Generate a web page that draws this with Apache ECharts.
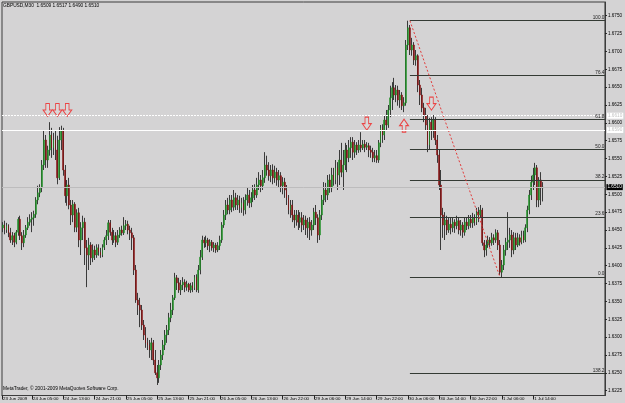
<!DOCTYPE html>
<html>
<head>
<meta charset="utf-8">
<script src="https://cdn.jsdelivr.net/npm/echarts@6/dist/echarts.min.js"></script>
<style>
html, body { margin: 0; background: #d4d3d4; }
#chart { width: 625px; height: 403px; }
</style>
</head>
<body>
<div id="chart"></div>
<script>
// GBPUSD M30, one [open, close, low, high] per bar, bar numbers start at firstBar
const symbolName = 'GBPUSD,M30';
const lastQuote = [1.6509, 1.6517, 1.6490, 1.6510]; // O H L C shown in the corner
const firstBar = 1;
const candles = [
  [1.6453,1.6457,1.6447,1.6461],[1.6457,1.6450,1.6444,1.6463],[1.6450,1.6456,1.6446,1.6460],[1.6456,1.6446,1.6440,1.6458],
  [1.6446,1.6436,1.6432,1.6453],[1.6436,1.6442,1.6429,1.6447],[1.6442,1.6433,1.6426,1.6446],[1.6433,1.6447,1.6430,1.6450],
  [1.6447,1.6465,1.6442,1.6468],[1.6465,1.6442,1.6436,1.6470],[1.6442,1.6432,1.6422,1.6447],[1.6432,1.6443,1.6426,1.6450],
  [1.6443,1.6453,1.6439,1.6457],[1.6453,1.6461,1.6450,1.6468],[1.6461,1.6465,1.6456,1.6472],[1.6465,1.6467,1.6447,1.6475],
  [1.6467,1.6472,1.6456,1.6477],[1.6472,1.6492,1.6467,1.6496],[1.6492,1.6502,1.6486,1.6512],[1.6502,1.6509,1.6496,1.6514],
  [1.6509,1.6541,1.6503,1.6548],[1.6541,1.6576,1.6534,1.6590],[1.6576,1.6548,1.6537,1.6583],[1.6548,1.6562,1.6537,1.6568],
  [1.6562,1.6583,1.6554,1.6601],[1.6583,1.6565,1.6551,1.6593],[1.6565,1.6576,1.6555,1.6586],[1.6576,1.6562,1.6548,1.6589],
  [1.6562,1.6523,1.6514,1.6582],[1.6523,1.6576,1.6520,1.6594],[1.6576,1.6589,1.6562,1.6596],[1.6589,1.6534,1.6526,1.6593],
  [1.6534,1.6498,1.6488,1.6541],[1.6498,1.6513,1.6484,1.6520],[1.6513,1.6485,1.6479,1.6523],[1.6485,1.6471,1.6457,1.6492],
  [1.6471,1.6486,1.6461,1.6492],[1.6486,1.6454,1.6447,1.6489],[1.6454,1.6474,1.6447,1.6479],[1.6474,1.6436,1.6426,1.6481],
  [1.6436,1.6453,1.6415,1.6461],[1.6453,1.6461,1.6436,1.6470],[1.6461,1.6425,1.6401,1.6467],[1.6425,1.6415,1.6370,1.6436],
  [1.6415,1.6429,1.6394,1.6439],[1.6429,1.6411,1.6401,1.6433],[1.6411,1.6422,1.6405,1.6430],[1.6422,1.6415,1.6408,1.6428],
  [1.6415,1.6425,1.6411,1.6430],[1.6425,1.6419,1.6414,1.6430],[1.6419,1.6415,1.6411,1.6425],[1.6415,1.6426,1.6412,1.6430],
  [1.6426,1.6436,1.6422,1.6440],[1.6436,1.6442,1.6429,1.6450],[1.6442,1.6460,1.6436,1.6464],[1.6460,1.6447,1.6442,1.6464],
  [1.6447,1.6436,1.6429,1.6453],[1.6436,1.6442,1.6432,1.6450],[1.6442,1.6433,1.6426,1.6447],[1.6433,1.6443,1.6429,1.6450],
  [1.6443,1.6450,1.6439,1.6454],[1.6450,1.6446,1.6442,1.6456],[1.6446,1.6456,1.6443,1.6468],[1.6456,1.6458,1.6450,1.6464],
  [1.6458,1.6450,1.6444,1.6463],[1.6450,1.6446,1.6436,1.6456],[1.6446,1.6439,1.6422,1.6453],[1.6439,1.6394,1.6387,1.6443],
  [1.6394,1.6352,1.6348,1.6401],[1.6352,1.6345,1.6331,1.6362],[1.6345,1.6338,1.6314,1.6355],[1.6338,1.6317,1.6310,1.6345],
  [1.6317,1.6303,1.6296,1.6324],[1.6303,1.6292,1.6285,1.6314],[1.6292,1.6289,1.6282,1.6299],[1.6289,1.6282,1.6271,1.6296],
  [1.6282,1.6292,1.6268,1.6299],[1.6292,1.6268,1.6261,1.6296],[1.6268,1.6250,1.6247,1.6282],[1.6250,1.6243,1.6233,1.6261],
  [1.6243,1.6261,1.6236,1.6268],[1.6261,1.6275,1.6254,1.6282],[1.6275,1.6289,1.6268,1.6296],[1.6289,1.6303,1.6282,1.6310],
  [1.6303,1.6310,1.6292,1.6317],[1.6310,1.6327,1.6303,1.6334],[1.6327,1.6338,1.6321,1.6348],[1.6338,1.6355,1.6331,1.6359],
  [1.6355,1.6383,1.6352,1.6390],[1.6383,1.6376,1.6366,1.6387],[1.6376,1.6366,1.6362,1.6383],[1.6366,1.6373,1.6359,1.6380],
  [1.6373,1.6377,1.6366,1.6384],[1.6377,1.6370,1.6363,1.6381],[1.6370,1.6374,1.6365,1.6379],[1.6374,1.6366,1.6363,1.6376],
  [1.6366,1.6372,1.6362,1.6376],[1.6372,1.6369,1.6363,1.6377],[1.6369,1.6384,1.6366,1.6387],[1.6384,1.6366,1.6363,1.6388],
  [1.6366,1.6394,1.6362,1.6401],[1.6394,1.6412,1.6388,1.6422],[1.6412,1.6436,1.6408,1.6442],[1.6436,1.6432,1.6425,1.6440],
  [1.6432,1.6436,1.6426,1.6442],[1.6436,1.6428,1.6422,1.6439],[1.6428,1.6433,1.6419,1.6437],[1.6433,1.6425,1.6421,1.6436],
  [1.6425,1.6429,1.6419,1.6433],[1.6429,1.6422,1.6418,1.6432],[1.6422,1.6428,1.6419,1.6433],[1.6428,1.6436,1.6422,1.6442],
  [1.6436,1.6457,1.6432,1.6461],[1.6457,1.6471,1.6453,1.6478],[1.6471,1.6485,1.6464,1.6492],[1.6485,1.6478,1.6472,1.6495],
  [1.6478,1.6492,1.6472,1.6499],[1.6492,1.6482,1.6475,1.6499],[1.6482,1.6495,1.6477,1.6506],[1.6495,1.6485,1.6478,1.6502],
  [1.6485,1.6492,1.6478,1.6499],[1.6492,1.6481,1.6474,1.6498],[1.6481,1.6488,1.6474,1.6495],[1.6488,1.6478,1.6470,1.6496],
  [1.6478,1.6492,1.6472,1.6500],[1.6492,1.6499,1.6484,1.6509],[1.6499,1.6488,1.6481,1.6506],[1.6488,1.6495,1.6482,1.6503],
  [1.6495,1.6506,1.6489,1.6513],[1.6506,1.6499,1.6492,1.6514],[1.6499,1.6513,1.6495,1.6523],[1.6513,1.6520,1.6506,1.6531],
  [1.6520,1.6512,1.6503,1.6527],[1.6512,1.6523,1.6506,1.6534],[1.6523,1.6541,1.6516,1.6559],[1.6541,1.6534,1.6526,1.6554],
  [1.6534,1.6526,1.6519,1.6545],[1.6526,1.6534,1.6517,1.6541],[1.6534,1.6523,1.6514,1.6542],[1.6523,1.6531,1.6516,1.6540],
  [1.6531,1.6520,1.6512,1.6537],[1.6520,1.6526,1.6509,1.6534],[1.6526,1.6512,1.6503,1.6531],[1.6512,1.6517,1.6500,1.6524],
  [1.6517,1.6506,1.6495,1.6523],[1.6506,1.6495,1.6485,1.6513],[1.6495,1.6478,1.6472,1.6499],[1.6478,1.6485,1.6467,1.6492],
  [1.6485,1.6471,1.6461,1.6492],[1.6471,1.6464,1.6453,1.6478],[1.6464,1.6471,1.6456,1.6478],[1.6471,1.6461,1.6450,1.6478],
  [1.6461,1.6467,1.6453,1.6475],[1.6467,1.6457,1.6447,1.6475],[1.6457,1.6464,1.6450,1.6471],[1.6464,1.6453,1.6443,1.6470],
  [1.6453,1.6461,1.6439,1.6467],[1.6461,1.6450,1.6436,1.6468],[1.6450,1.6457,1.6442,1.6464],[1.6457,1.6475,1.6450,1.6481],
  [1.6475,1.6467,1.6457,1.6485],[1.6467,1.6443,1.6432,1.6472],[1.6443,1.6471,1.6436,1.6478],[1.6471,1.6492,1.6464,1.6499],
  [1.6492,1.6506,1.6485,1.6517],[1.6506,1.6499,1.6489,1.6516],[1.6499,1.6520,1.6492,1.6527],[1.6520,1.6509,1.6502,1.6528],
  [1.6509,1.6527,1.6503,1.6537],[1.6527,1.6520,1.6512,1.6537],[1.6520,1.6537,1.6514,1.6548],[1.6537,1.6527,1.6506,1.6545],
  [1.6527,1.6548,1.6513,1.6562],[1.6548,1.6531,1.6524,1.6572],[1.6531,1.6541,1.6506,1.6562],[1.6541,1.6562,1.6534,1.6572],
  [1.6562,1.6551,1.6531,1.6569],[1.6551,1.6565,1.6545,1.6576],[1.6565,1.6573,1.6551,1.6580],[1.6573,1.6559,1.6548,1.6580],
  [1.6559,1.6569,1.6551,1.6576],[1.6569,1.6562,1.6555,1.6573],[1.6562,1.6569,1.6558,1.6576],[1.6569,1.6565,1.6559,1.6587],
  [1.6565,1.6570,1.6562,1.6576],[1.6570,1.6566,1.6559,1.6576],[1.6566,1.6568,1.6562,1.6573],[1.6568,1.6562,1.6552,1.6572],
  [1.6562,1.6559,1.6551,1.6568],[1.6559,1.6551,1.6545,1.6565],[1.6551,1.6554,1.6545,1.6562],[1.6554,1.6548,1.6544,1.6562],
  [1.6548,1.6572,1.6544,1.6576],[1.6572,1.6593,1.6566,1.6597],[1.6593,1.6583,1.6572,1.6598],[1.6583,1.6604,1.6576,1.6611],
  [1.6604,1.6597,1.6590,1.6618],[1.6597,1.6618,1.6593,1.6625],[1.6618,1.6635,1.6608,1.6652],[1.6635,1.6649,1.6618,1.6657],
  [1.6649,1.6639,1.6632,1.6663],[1.6639,1.6646,1.6629,1.6653],[1.6646,1.6632,1.6624,1.6652],[1.6632,1.6639,1.6621,1.6646],
  [1.6639,1.6624,1.6618,1.6643],[1.6624,1.6628,1.6615,1.6636],[1.6628,1.6709,1.6624,1.6716],[1.6709,1.6733,1.6702,1.6743],
  [1.6733,1.6702,1.6695,1.6737],[1.6702,1.6709,1.6694,1.6719],[1.6709,1.6688,1.6681,1.6713],[1.6688,1.6694,1.6680,1.6702],
  [1.6694,1.6653,1.6643,1.6696],[1.6653,1.6639,1.6625,1.6660],[1.6639,1.6621,1.6615,1.6649],[1.6621,1.6611,1.6601,1.6628],
  [1.6611,1.6597,1.6590,1.6621],[1.6597,1.6569,1.6559,1.6611],[1.6569,1.6601,1.6562,1.6607],[1.6601,1.6590,1.6576,1.6608],
  [1.6590,1.6604,1.6579,1.6611],[1.6604,1.6576,1.6569,1.6608],[1.6576,1.6555,1.6544,1.6583],[1.6555,1.6513,1.6506,1.6562],
  [1.6513,1.6471,1.6422,1.6534],[1.6471,1.6457,1.6439,1.6481],[1.6457,1.6464,1.6436,1.6475],[1.6464,1.6450,1.6443,1.6470],
  [1.6450,1.6458,1.6446,1.6467],[1.6458,1.6453,1.6444,1.6467],[1.6453,1.6461,1.6447,1.6467],[1.6461,1.6456,1.6446,1.6465],
  [1.6456,1.6463,1.6451,1.6470],[1.6463,1.6450,1.6444,1.6467],[1.6450,1.6457,1.6442,1.6464],[1.6457,1.6447,1.6439,1.6461],
  [1.6447,1.6461,1.6442,1.6467],[1.6461,1.6456,1.6450,1.6468],[1.6456,1.6465,1.6451,1.6471],[1.6465,1.6460,1.6453,1.6471],
  [1.6460,1.6467,1.6453,1.6474],[1.6467,1.6461,1.6456,1.6472],[1.6461,1.6475,1.6457,1.6481],[1.6475,1.6471,1.6461,1.6482],
  [1.6471,1.6478,1.6467,1.6485],[1.6478,1.6432,1.6428,1.6481],[1.6432,1.6422,1.6412,1.6436],[1.6422,1.6429,1.6414,1.6436],
  [1.6429,1.6436,1.6425,1.6442],[1.6436,1.6432,1.6426,1.6440],[1.6432,1.6439,1.6428,1.6446],[1.6439,1.6436,1.6429,1.6444],
  [1.6436,1.6446,1.6432,1.6451],[1.6446,1.6429,1.6422,1.6450],[1.6429,1.6391,1.6387,1.6436],[1.6391,1.6401,1.6384,1.6408],
  [1.6401,1.6422,1.6394,1.6429],[1.6422,1.6433,1.6414,1.6439],[1.6433,1.6436,1.6422,1.6475],[1.6436,1.6443,1.6425,1.6453],
  [1.6443,1.6422,1.6412,1.6450],[1.6422,1.6439,1.6416,1.6447],[1.6439,1.6429,1.6422,1.6446],[1.6429,1.6439,1.6426,1.6446],
  [1.6439,1.6433,1.6428,1.6444],[1.6433,1.6442,1.6430,1.6449],[1.6442,1.6436,1.6432,1.6449],[1.6436,1.6453,1.6433,1.6458],
  [1.6453,1.6478,1.6447,1.6484],[1.6478,1.6499,1.6472,1.6506],[1.6499,1.6517,1.6492,1.6526],[1.6517,1.6527,1.6506,1.6537],
  [1.6527,1.6537,1.6513,1.6544],[1.6537,1.6492,1.6482,1.6541],[1.6492,1.6520,1.6482,1.6524],[1.6520,1.6509,1.6485,1.6531],
  [1.6509,1.6510,1.6490,1.6517]
];

const tickBars = [0.7, 16, 32, 48, 64, 80, 96, 112, 128, 144, 160, 176, 192, 208, 224, 240, 256, 272];
const tickLabels = ['23 Jun 2009', '24 Jun 05:00', '24 Jun 13:00', '24 Jun 21:00', '25 Jun 05:00', '25 Jun 13:00',
  '25 Jun 21:00', '26 Jun 05:00', '26 Jun 13:00', '26 Jun 22:00', '29 Jun 06:00', '29 Jun 14:00',
  '29 Jun 22:00', '30 Jun 06:00', '30 Jun 14:00', '30 Jun 22:00', '1 Jul 06:00', '1 Jul 14:00'];
const priceTicks = [1.6225, 1.6250, 1.6275, 1.6300, 1.6325, 1.6350, 1.6375, 1.6400, 1.6425, 1.6450, 1.6475,
  1.6500, 1.6525, 1.6550, 1.6575, 1.6600, 1.6625, 1.6650, 1.6675, 1.6700, 1.6725, 1.6750];

// fibo retracement drawn from the spike high to the low
const fibLabels = ['100.0', '76.4', '61.8', '50.0', '38.2', '23.6', '0.0', '138.2'];
const fibPrices = [1.6743, 1.6666, 1.6605, 1.6563, 1.6520, 1.6468, 1.6384, 1.6249];
const fibFromBar = 209;
const swingLine = [[209, 1.6743], [255, 1.6384]];

const downArrows = [[24, 1.6618], [29, 1.6618], [34, 1.6618], [187, 1.6599], [220, 1.6627]];
const upArrows = [[206, 1.6596]];
const dottedLevel = 1.6610;
const solidLevel = 1.6590;
const bidPrice = 1.6510;

const xMin = 0.7, xMax = 308.6;
const yMin = 1.62183, yMax = 1.67692;

const font = 'Liberation Sans';
const bullColor = '#1f8f24';
const bearColor = '#861010';
const wickColor = '#3a3a3a';
const arrowPath = 'path://M3,0 L7,0 L7,6 L10,6 L5,12 L0,6 L3,6 Z';

const wickData = candles.map((c, i) => [firstBar + i, c[0], c[1], c[2], c[3]]);
const bodyData = candles.map((c, i) => [firstBar + i, c[0], c[1], Math.min(c[0], c[1]), Math.max(c[0], c[1])]);

const fibMarks = fibPrices.map((p, i) => [
  {
    coord: [fibFromBar, p],
    lineStyle: { color: '#343a34', width: 1.2, type: 'solid' },
    label: {
      show: true, position: 'insideEndTop', formatter: fibLabels[i], distance: 0.5,
      fontSize: 4.7, fontFamily: font, color: '#222'
    }
  },
  { coord: [xMax, p] }
]);

const levelLabel = (txt) => ({
  show: true, position: 'end', formatter: txt, distance: 2,
  backgroundColor: '#ffffff', color: '#c4c4c4', padding: [1, 1, 0, 1],
  fontSize: 4.7, fontFamily: font
});

const chart = echarts.init(document.getElementById('chart'));
chart.setOption({
  animation: false,
  backgroundColor: '#d4d3d4',
  title: [
    {
      text: symbolName + '  ' + lastQuote.map(v => v.toFixed(4)).join(' '),
      left: 3, top: 3, padding: 0,
      textStyle: { fontSize: 4.8, fontWeight: 'normal', fontFamily: font, color: '#000' }
    },
    {
      text: 'MetaTrader, \u00a9 2001-2009 MetaQuotes Software Corp.',
      left: 3, top: 386, padding: 0,
      textStyle: { fontSize: 4.8, fontWeight: 'normal', fontFamily: font, color: '#000' }
    }
  ],
  grid: {
    left: 1, right: 19, top: 2, bottom: 7.5,
    show: true, borderColor: '#3c3c3c', borderWidth: 1, backgroundColor: '#d4d3d4'
  },
  xAxis: {
    type: 'value', min: xMin, max: xMax,
    splitLine: { show: false },
    axisLine: { show: true, onZero: false, lineStyle: { color: '#3c3c3c', width: 1 } },
    axisTick: { show: true, length: 4, customValues: tickBars, lineStyle: { color: '#222' } },
    axisLabel: {
      customValues: tickBars, showMinLabel: true, showMaxLabel: true, hideOverlap: false,
      align: 'left', margin: 1, padding: [0, 0, 0, 1],
      fontSize: 4.4, fontFamily: font, color: '#000',
      formatter: (v) => tickLabels[tickBars.indexOf(v)]
    }
  },
  yAxis: {
    type: 'value', position: 'right', min: yMin, max: yMax, scale: true,
    splitLine: { show: false },
    axisLine: { show: true, lineStyle: { color: '#3c3c3c', width: 1 } },
    axisTick: { show: true, length: 2, customValues: priceTicks, lineStyle: { color: '#222' } },
    axisLabel: {
      customValues: priceTicks, margin: 3,
      fontSize: 4.6, fontFamily: font, color: '#000',
      formatter: (v) => v.toFixed(4)
    }
  },
  series: [
    {
      name: 'wicks', type: 'candlestick', data: wickData,
      encode: { x: 0, y: [1, 2, 3, 4] },
      barWidth: 0.2,
      itemStyle: { color: wickColor, color0: wickColor, borderColor: wickColor, borderColor0: wickColor, borderWidth: 1 },
      markLine: {
        silent: true, symbol: ['none', 'none'], animation: false, precision: 5,
        data: [
          ...fibMarks,
          [
            { coord: swingLine[0], lineStyle: { color: '#e23a3a', width: 1, type: [2, 2] }, label: { show: false } },
            { coord: swingLine[1] }
          ],
          { yAxis: bidPrice, lineStyle: { color: '#bdbcbd', width: 1, type: 'solid' },
            label: { show: true, position: 'end', formatter: bidPrice.toFixed(4), distance: 1.5,
              backgroundColor: '#000', color: '#fff', padding: [1, 1, 0, 1], fontSize: 4.7, fontFamily: font } },
          { yAxis: dottedLevel, lineStyle: { color: '#ffffff', width: 1, type: [2, 1] }, label: levelLabel(dottedLevel.toFixed(4)) },
          { yAxis: solidLevel, lineStyle: { color: '#ffffff', width: 1.2, type: 'solid' }, label: levelLabel(solidLevel.toFixed(4)) }
        ]
      }
    },
    {
      name: 'bodies', type: 'candlestick', data: bodyData,
      encode: { x: 0, y: [1, 2, 3, 4] },
      barWidth: 1.4,
      itemStyle: { color: bullColor, color0: bearColor, borderColor: bullColor, borderColor0: bearColor, borderWidth: 0.5 }
    },
    {
      name: 'down arrows', type: 'scatter', data: downArrows,
      symbol: arrowPath, symbolSize: [9, 13],
      itemStyle: { color: 'rgba(255,255,255,0.15)', borderColor: '#f02020', borderWidth: 1 }
    },
    {
      name: 'up arrows', type: 'scatter', data: upArrows,
      symbol: arrowPath, symbolSize: [9, 13], symbolRotate: 180,
      itemStyle: { color: 'rgba(255,255,255,0.15)', borderColor: '#f02020', borderWidth: 1 }
    }
  ]
});
</script>
</body>
</html>
